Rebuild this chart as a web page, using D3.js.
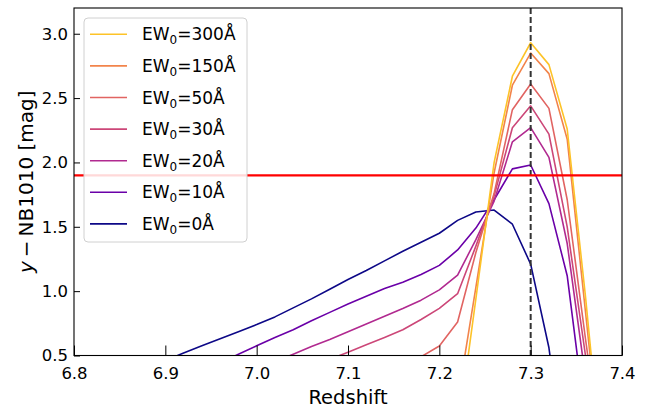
<!DOCTYPE html>
<html>
<head>
<meta charset="utf-8">
<script src="https://cdn.jsdelivr.net/npm/d3@7"></script>
<style>
  html, body { margin: 0; padding: 0; background: #fff; }
  svg { display: block; font-family: "DejaVu Sans", sans-serif; }
</style>
</head>
<body>
<svg id="chart" width="651" height="409"></svg>
<script>
// ---------- data ----------
const redshift = [6.90, 6.92, 6.94, 6.96, 6.98, 7.00, 7.02, 7.04, 7.06, 7.08, 7.10, 7.12, 7.14,
                  7.16, 7.18, 7.20, 7.22, 7.24, 7.26, 7.28, 7.30, 7.32, 7.34, 7.36, 7.38];
const ew0   = [0.46, 0.52, 0.575, 0.63, 0.685, 0.74, 0.80, 0.87, 0.94, 1.015, 1.09, 1.16, 1.235,
               1.31, 1.38, 1.45, 1.55, 1.615, 1.63, 1.52, 1.21, 0.56, -0.5, null, null];
const ew10  = [null, null, null, 0.44, 0.51, 0.575, 0.64, 0.70, 0.77, 0.835, 0.90, 0.96, 1.02,
               1.07, 1.13, 1.20, 1.32, 1.49, 1.71, 1.95, 1.98, 1.68, 1.12, 0.0, null];
const ew20  = [null, null, null, null, null, null, 0.45, 0.51, 0.57, 0.625, 0.685, 0.745, 0.805,
               0.865, 0.93, 1.01, 1.125, 1.40, 1.70, 2.16, 2.27, 2.04, 1.37, 0.33, -0.5];
const ew30  = [null, null, null, null, null, null, null, null, null, 0.47, 0.526, 0.583, 0.64,
               0.70, 0.78, 0.866, 0.98, 1.35, 1.74, 2.27, 2.44, 2.22, 1.50, 0.50, -0.5];
const ew50  = [null, null, null, null, null, null, null, null, null, null, null, null, null,
               0.42, 0.49, 0.574, 0.76, 1.30, 1.76, 2.41, 2.61, 2.42, 1.71, 0.63, -0.4];
const ew150 = [null, null, null, null, null, null, null, null, null, null, null, null, null,
               null, null, -0.6, 0.15, 1.03, 1.92, 2.60, 2.85, 2.69, 2.18, 0.84, -0.5];
const ew300 = [null, null, null, null, null, null, null, null, null, null, null, null, null,
               null, null, null, -0.11, 0.94, 2.00, 2.67, 2.93, 2.76, 2.26, 0.96, -0.5];

const seriesNames  = ["300", "150", "50", "30", "20", "10", "0"];
const seriesValues = [ew300, ew150, ew50, ew30, ew20, ew10, ew0];
const seriesColors = ["#fdc328", "#f2844b", "#e16462", "#cc4778", "#b12a90", "#6a00a8", "#0d0887"];

const xTicks = [6.8, 6.9, 7.0, 7.1, 7.2, 7.3, 7.4];
const yTicks = [0.5, 1.0, 1.5, 2.0, 2.5, 3.0];
const threshold = 1.9;
const targetZ = 7.3;

// ---------- layout ----------
const W = 651, H = 409;
const m = { left: 74, right: 29, top: 8, bottom: 53.5 };
const svg = d3.select("#chart");
const x = d3.scaleLinear().domain([6.8, 7.4]).range([m.left, W - m.right]);
const y = d3.scaleLinear().domain([0.5, 3.2]).range([H - m.bottom, m.top]);

svg.append("defs").append("clipPath").attr("id", "clip")
  .append("rect")
  .attr("x", m.left).attr("y", m.top)
  .attr("width", W - m.left - m.right).attr("height", H - m.top - m.bottom);

const plot = svg.append("g").attr("clip-path", "url(#clip)");

const line = d3.line()
  .defined(d => d[1] !== null)
  .x(d => x(d[0])).y(d => y(d[1]));

for (let i = seriesValues.length - 1; i >= 0; i--) {
  const pts = redshift.map((z, k) => [z, seriesValues[i][k]]);
  plot.append("path")
    .attr("d", line(pts))
    .attr("fill", "none")
    .attr("stroke", seriesColors[i])
    .attr("stroke-width", 1.6)
    .attr("stroke-linejoin", "round");
}

// reference lines
plot.append("line")
  .attr("x1", x(targetZ)).attr("x2", x(targetZ))
  .attr("y1", m.top).attr("y2", H - m.bottom)
  .attr("stroke", "#333").attr("stroke-width", 2)
  .attr("stroke-dasharray", "6,3");
plot.append("line")
  .attr("x1", m.left).attr("x2", W - m.right)
  .attr("y1", y(threshold)).attr("y2", y(threshold))
  .attr("stroke", "#ff0000").attr("stroke-width", 2.2);

// ---------- axes ----------
const xAxis = d3.axisBottom(x).tickValues(xTicks).tickFormat(d3.format(".1f"))
  .tickSizeInner(-10).tickSizeOuter(0).tickPadding(12);
const gx = svg.append("g").attr("transform", `translate(0,${H - m.bottom})`).call(xAxis);
gx.select(".domain").remove();
gx.selectAll(".tick line").attr("stroke", "#000").attr("stroke-width", 1);
gx.selectAll(".tick text").attr("font-size", 16.5).attr("font-family", "DejaVu Sans").attr("fill", "#000");

const yAxis = d3.axisLeft(y).tickValues(yTicks).tickFormat(d3.format(".1f"))
  .tickSizeInner(-6).tickSizeOuter(0).tickPadding(6);
const gy = svg.append("g").attr("transform", `translate(${m.left},0)`).call(yAxis);
gy.select(".domain").remove();
gy.selectAll(".tick line").attr("stroke", "#000").attr("stroke-width", 1);
gy.selectAll(".tick text").attr("font-size", 16.5).attr("font-family", "DejaVu Sans").attr("fill", "#000");

// frame
svg.append("rect")
  .attr("x", m.left).attr("y", m.top)
  .attr("width", W - m.left - m.right).attr("height", H - m.top - m.bottom)
  .attr("fill", "none").attr("stroke", "#000").attr("stroke-width", 1.1);

// axis labels
svg.append("text")
  .attr("x", (m.left + W - m.right) / 2).attr("y", 404)
  .attr("text-anchor", "middle").attr("font-size", 19.5).attr("fill", "#000")
  .text("Redshift");

const yl = svg.append("text")
  .attr("transform", `translate(33,${(m.top + H - m.bottom) / 2}) rotate(-90)`)
  .attr("text-anchor", "middle").attr("font-size", 20).attr("fill", "#000");
yl.append("tspan").attr("font-style", "italic").text("y");
yl.append("tspan").text("\u2009\u2212\u2009NB1010 [mag]");

// ---------- legend ----------
const lg = svg.append("g");
lg.append("rect")
  .attr("x", 84).attr("y", 18).attr("width", 163).attr("height", 224)
  .attr("rx", 4).attr("ry", 4)
  .attr("fill", "#fff").attr("fill-opacity", 0.85)
  .attr("stroke", "#d0d0d0").attr("stroke-width", 1);

seriesNames.forEach((name, i) => {
  const cy = 34.3 + i * 31.6;
  lg.append("line")
    .attr("x1", 90).attr("x2", 127).attr("y1", cy).attr("y2", cy)
    .attr("stroke", seriesColors[i]).attr("stroke-width", 1.6);
  const t = lg.append("text")
    .attr("x", 142).attr("y", cy + 6)
    .attr("font-size", 17).attr("fill", "#000");
  t.append("tspan").text("EW");
  t.append("tspan").attr("font-size", 12).attr("dy", 4).text("0");
  t.append("tspan").attr("dy", -4).text("=" + name + "\u00C5");
});
</script>
</body>
</html>
